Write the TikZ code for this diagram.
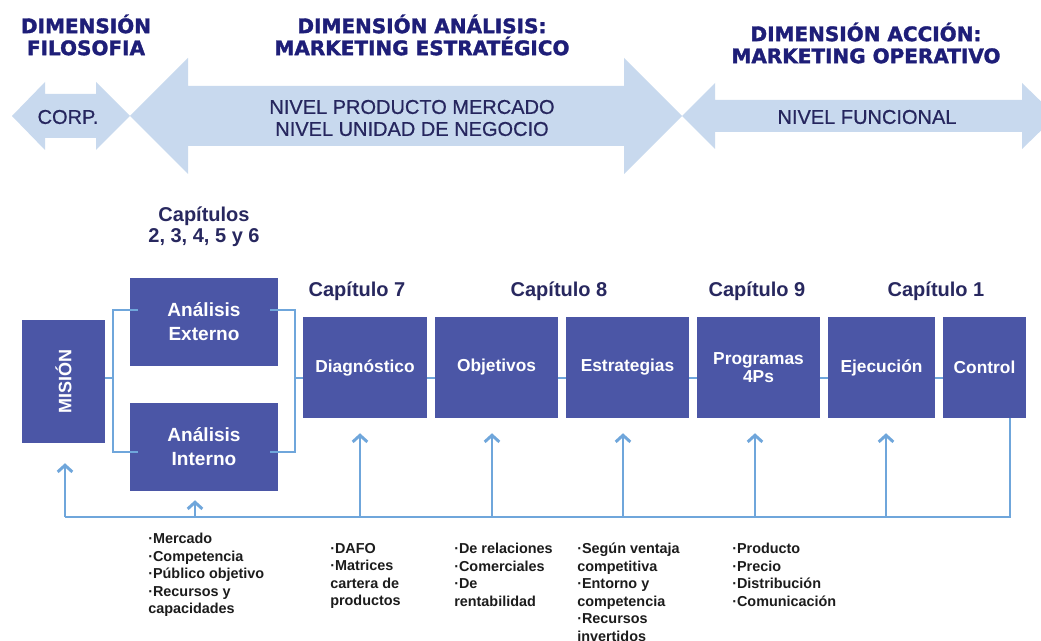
\documentclass[tikz,border=0pt]{standalone}
\usepackage{fontspec}
\setmainfont{Liberation Sans}
\newfontfamily\heavyfont{DejaVu Sans}[BoldFeatures={FakeBold=1.6}]
\newfontfamily\nivfont{Liberation Sans}[FakeBold=0.6]
\usetikzlibrary{arrows.meta,calc}
\definecolor{arrowfill}{HTML}{C8D9EE}
\definecolor{titlecol}{HTML}{1E1E78}
\definecolor{boxfill}{HTML}{4B56A6}
\definecolor{linecol}{HTML}{6FA6DB}
\definecolor{chapcol}{HTML}{28285F}
\definecolor{nivcol}{HTML}{26265E}
\definecolor{listcol}{HTML}{1C1C1C}
\newcommand{\pxu}{0.75pt}
\begin{document}
\begin{tikzpicture}[x=0.75pt,y=-0.75pt,
  titletext/.style={font=\heavyfont\bfseries\fontsize{15}{16.5}\selectfont, text=titlecol, align=center, inner sep=0pt},
  nivtext/.style={font=\nivfont\fontsize{15}{16.5}\selectfont, text=nivcol, align=center, inner sep=0pt},
  chaptext/.style={font=\bfseries\fontsize{15}{15.8}\selectfont, text=chapcol, align=center, inner sep=0pt},
  blkbox/.style={fill=boxfill, draw=none, text=white, align=center, inner sep=0pt, font=\bfseries\fontsize{13}{14}\selectfont},
  anlbox/.style={blkbox, minimum width=148*\pxu, minimum height=88*\pxu, font=\bfseries\fontsize{14.3}{18}\selectfont},
  rowbox/.style={blkbox, minimum height=101*\pxu},
  conn/.style={draw=linecol, line width=2.2pt},
  fbarrow/.style={conn, -{Straight Barb[length=5pt,width=11pt]}},
  lsttext/.style={font=\bfseries\fontsize{10.8}{13.1}\selectfont, text=listcol, align=left, anchor=north west, inner sep=0pt}
]
\path[use as bounding box] (0,0) rectangle (1041,641);
\clip (0,0) rectangle (1041,641);
\fill[white] (0,0) rectangle (1041,641);

% level arrows
\fill[arrowfill] (12,116) -- (45,82) -- (45,94) -- (96,94) -- (96,82) -- (130,116) -- (96,150) -- (96,138) -- (45,138) -- (45,150) -- cycle;
\fill[arrowfill] (130,116) -- (188,58) -- (188,86) -- (624,86) -- (624,58) -- (682,116) -- (624,174) -- (624,146) -- (188,146) -- (188,174) -- cycle;
\fill[arrowfill] (682,116) -- (715,83) -- (715,100) -- (1022,100) -- (1022,83) -- (1056,116) -- (1022,149) -- (1022,132) -- (715,132) -- (715,149) -- cycle;

% titles
\node[titletext] (t1) at (86,35) {DIMENSIÓN\\FILOSOFIA};
\node[titletext] (t2) at (422,35) {DIMENSIÓN ANÁLISIS:\\MARKETING ESTRATÉGICO};
\node[titletext] (t3) at (866,43) {DIMENSIÓN ACCIÓN:\\MARKETING OPERATIVO};

% arrow labels
\node[nivtext] (corp) at (68,117) {CORP.};
\node[nivtext] (npm) at (412,118) {NIVEL PRODUCTO MERCADO\\NIVEL UNIDAD DE NEGOCIO};
\node[nivtext] (nf) at (867,117) {NIVEL FUNCIONAL};

% chapter labels
\node[chaptext] (c26) at (204,227) {Capítulos\\2, 3, 4, 5 y 6};
\node[chaptext] (c7) at (357,291) {Capítulo 7};
\node[chaptext] (c8) at (559,291) {Capítulo 8};
\node[chaptext] (c9) at (757,291) {Capítulo 9};
\node[chaptext] (c1) at (936,291) {Capítulo 1};

% boxes
\node[blkbox, minimum width=83*\pxu, minimum height=123*\pxu] (mis) at (63.5,381.5) {};
\node[text=white, font=\bfseries\fontsize{13.5}{14}\selectfont, rotate=90, inner sep=0pt] (mistxt) at (mis) {MISIÓN};
\node[anlbox] (ext) at (204,322) {Análisis\\Externo};
\node[anlbox] (int) at (204,447) {Análisis\\Interno};
\node[rowbox, minimum width=124*\pxu] (diag) at (365,367.5) {Diagnóstico};
\node[rowbox, minimum width=123*\pxu] (obj) at (496.5,367.5) {Objetivos};
\node[rowbox, minimum width=123*\pxu] (estr) at (627.5,367.5) {Estrategias};
\node[rowbox, minimum width=123*\pxu] (prog) at (758.5,367.5) {Programas\\4Ps};
\node[rowbox, minimum width=107*\pxu] (ejec) at (881.5,367.5) {Ejecución};
\node[rowbox, minimum width=83*\pxu] (ctrl) at (984.5,367.5) {Control};

% flow connectors
\coordinate (bl) at (113,378);
\coordinate (br) at (295,378);
\coordinate (blt) at (113,310);
\coordinate (blb) at (113,452);
\coordinate (brt) at (295,310);
\coordinate (brb) at (295,452);
\draw[conn] (mis.east |- bl) -- (bl);
\draw[conn] ($(ext.west |- blt)+(8,0)$) -- (blt) -- (blb) -- ($(int.west |- blb)+(8,0)$);
\draw[conn] ($(ext.east |- brt)+(-8,0)$) -- (brt) -- (brb) -- ($(int.east |- brb)+(-8,0)$);
\draw[conn] (br) -- (diag.west |- br);
\foreach \a/\b in {diag/obj, obj/estr, estr/prog, prog/ejec, ejec/ctrl}
  \draw[conn] (\a.east |- br) -- (\b.west |- br);

% feedback loop
\coordinate (fR) at (1010,517);
\coordinate (fM) at (65,517);
\coordinate (fI) at (195,517);
\coordinate (fD) at (360,517);
\coordinate (fO) at (492,517);
\coordinate (fE) at (623,517);
\coordinate (fP) at (755,517);
\coordinate (fJ) at (886,517);
\draw[conn] (ctrl.south -| fR) -- (fR) -- (fM);
\draw[fbarrow] (fM) -- ($(mis.south -| fM)+(0,20)$);
\draw[fbarrow] (fI) -- ($(int.south -| fI)+(0,9)$);
\draw[fbarrow] (fD) -- ($(diag.south -| fD)+(0,15)$);
\draw[fbarrow] (fO) -- ($(obj.south -| fO)+(0,15)$);
\draw[fbarrow] (fE) -- ($(estr.south -| fE)+(0,15)$);
\draw[fbarrow] (fP) -- ($(prog.south -| fP)+(0,15)$);
\draw[fbarrow] (fJ) -- ($(ejec.south -| fJ)+(0,15)$);

% lists
\node[lsttext] (l1) at (148,533) {·Mercado\\·Competencia\\·Público objetivo\\·Recursos y\\capacidades};
\node[lsttext] (l2) at (330,543) {·DAFO\\·Matrices\\cartera de\\productos};
\node[lsttext] (l3) at (454,543) {·De relaciones\\·Comerciales\\·De\\rentabilidad};
\node[lsttext] (l4) at (577,543) {·Según ventaja\\competitiva\\·Entorno y\\competencia\\·Recursos\\invertidos};
\node[lsttext] (l5) at (732,543) {·Producto\\·Precio\\·Distribución\\·Comunicación};
\end{tikzpicture}
\end{document}
